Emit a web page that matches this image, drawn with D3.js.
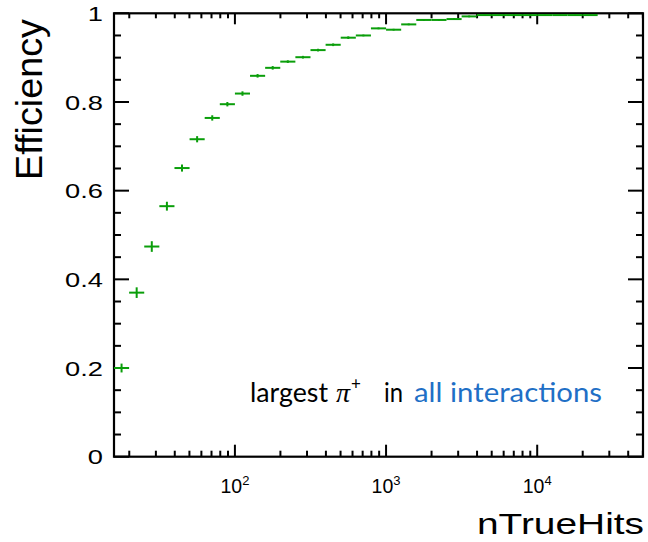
<!DOCTYPE html>
<html>
<head>
<meta charset="utf-8">
<script src="https://cdn.jsdelivr.net/npm/d3@7"></script>
<style>
  html, body { margin: 0; padding: 0; background: #fff; }
  svg { display: block; }
</style>
</head>
<body>
<svg id="chart" width="648" height="542"></svg>
<script>
// Lower edges (log10 of nTrueHits) of each histogram bin; every bin is 0.1 decade wide
const binLowLog10 = [1.2, 1.3, 1.4, 1.5, 1.6, 1.7, 1.8, 1.9, 2.0, 2.1,
                     2.2, 2.3, 2.4, 2.5, 2.6, 2.7, 2.8, 2.9, 3.0, 3.1,
                     3.2, 3.3, 3.4, 3.5, 3.6, 3.7, 3.8, 3.9, 4.0, 4.1,
                     4.2, 4.3];
const binWidthLog10 = 0.1;

// Reconstruction efficiency per bin and its statistical uncertainty
const efficiency = [0.200, 0.370, 0.474, 0.565, 0.651, 0.716, 0.764, 0.795, 0.819, 0.859,
                    0.877, 0.891, 0.901, 0.917, 0.929, 0.945, 0.950, 0.966, 0.963, 0.975,
                    0.985, 0.985, 0.987, 0.993, 0.996, 0.996, 0.996, 0.996, 0.996, 0.996,
                    0.996, 0.996];
const efficiencyErr = [0.010, 0.012, 0.012, 0.010, 0.008, 0.007, 0.006, 0.005, 0.005, 0.004,
                       0.004, 0.003, 0.003, 0.003, 0.003, 0.003, 0.002, 0.002, 0.002, 0.002,
                       0.002, 0.002, 0.002, 0.002, 0.001, 0.001, 0.001, 0.001, 0.001, 0.001,
                       0.001, 0.001];

// Axis ticks
const yMajorTicks = [0, 0.2, 0.4, 0.6, 0.8, 1];
const yTickLabels = ["0", "0.2", "0.4", "0.6", "0.8", "1"];
const xDecades = [100, 1000, 10000];
const xDecadeExponents = ["2", "3", "4"];

const xTitle = "nTrueHits";
const yTitle = "Efficiency";

const frame = { left: 114, right: 643, top: 13.3, bottom: 456.7 };
const green = "#0a9e0a";
const blue = "#1f6fc6";
const sans = "'Liberation Sans', Arial, Helvetica, sans-serif";

const svg = d3.select("#chart");

const x = d3.scaleLog()
  .domain([Math.pow(10, 1.2), Math.pow(10, 4.7)])
  .range([frame.left, frame.right]);
const y = d3.scaleLinear()
  .domain([0, 1])
  .range([frame.bottom, frame.top]);

// Minor ticks: x at every integer multiple inside each decade, y every 0.05
const xMinor = x.ticks(40).filter(v => xDecades.indexOf(v) < 0);
const yMinor = d3.range(0, 21).map(i => i * 0.05).filter(v => Math.abs(v * 5 - Math.round(v * 5)) > 1e-6);

const axes = svg.append("g").attr("stroke", "#000").attr("stroke-width", 2);

// Left & right axes (ticks pointing into the frame)
axes.selectAll("line.ymaj").data(yMajorTicks).join("line")
  .attr("x1", frame.left).attr("x2", frame.left + 15)
  .attr("y1", d => y(d)).attr("y2", d => y(d));
axes.selectAll("line.ymin").data(yMinor).join("line")
  .attr("x1", frame.left).attr("x2", frame.left + 7)
  .attr("y1", d => y(d)).attr("y2", d => y(d));
axes.selectAll("line.ymajR").data(yMajorTicks).join("line")
  .attr("x1", frame.right).attr("x2", frame.right - 15)
  .attr("y1", d => y(d)).attr("y2", d => y(d));
axes.selectAll("line.yminR").data(yMinor).join("line")
  .attr("x1", frame.right).attr("x2", frame.right - 7)
  .attr("y1", d => y(d)).attr("y2", d => y(d));

// Bottom & top axes
axes.selectAll("line.xmaj").data(xDecades).join("line")
  .attr("x1", d => x(d)).attr("x2", d => x(d))
  .attr("y1", frame.bottom).attr("y2", frame.bottom - 12);
axes.selectAll("line.xmin").data(xMinor).join("line")
  .attr("x1", d => x(d)).attr("x2", d => x(d))
  .attr("y1", frame.bottom).attr("y2", frame.bottom - 6);
axes.selectAll("line.xmajT").data(xDecades).join("line")
  .attr("x1", d => x(d)).attr("x2", d => x(d))
  .attr("y1", frame.top).attr("y2", frame.top + 11);
axes.selectAll("line.xminT").data(xMinor).join("line")
  .attr("x1", d => x(d)).attr("x2", d => x(d))
  .attr("y1", frame.top).attr("y2", frame.top + 5);

// Frame
svg.append("rect")
  .attr("x", frame.left).attr("y", frame.top)
  .attr("width", frame.right - frame.left).attr("height", frame.bottom - frame.top)
  .attr("fill", "none").attr("stroke", "#000").attr("stroke-width", 2.2);

// Y tick labels (wide-set digits)
svg.append("g").style("font-family", sans)
  .selectAll("text").data(yMajorTicks).join("text")
  .attr("transform", d => `translate(103,${y(d)}) scale(1.3,1)`)
  .attr("dy", "0.36em")
  .attr("text-anchor", "end").attr("font-size", 21)
  .text((d, i) => yTickLabels[i]);

// X tick labels: 10 with superscript exponent
const xl = svg.append("g").style("font-family", sans)
  .selectAll("text").data(xDecades).join("text")
  .attr("x", d => x(d)).attr("y", 493)
  .attr("text-anchor", "middle").attr("font-size", 19.5);
xl.append("tspan").text("10");
xl.append("tspan").attr("font-size", 13).attr("dy", -8).text((d, i) => xDecadeExponents[i]);

// Axis titles
svg.append("text").style("font-family", sans)
  .attr("x", 644).attr("y", 534.3)
  .attr("text-anchor", "end").attr("font-size", 29)
  .attr("textLength", 167).attr("lengthAdjust", "spacingAndGlyphs")
  .text(xTitle);
svg.append("text").style("font-family", sans)
  .attr("transform", "translate(42,19) rotate(-90)")
  .attr("text-anchor", "end").attr("font-size", 37)
  .attr("textLength", 161).attr("lengthAdjust", "spacingAndGlyphs")
  .text(yTitle);

// Efficiency points: horizontal bar spans the bin, vertical bar is the error
const pts = binLowLog10.map((lo, i) => ({
  lo: Math.pow(10, lo), hi: Math.pow(10, lo + binWidthLog10),
  c: Math.pow(10, lo + binWidthLog10 / 2),
  v: efficiency[i], e: efficiencyErr[i]
}));
const g = svg.append("g").attr("stroke", green).attr("stroke-width", 2);
g.selectAll("line.h").data(pts).join("line")
  .attr("x1", d => x(d.lo)).attr("x2", d => x(d.hi))
  .attr("y1", d => y(d.v)).attr("y2", d => y(d.v));
g.selectAll("line.v").data(pts).join("line")
  .attr("x1", d => x(d.c)).attr("x2", d => x(d.c))
  .attr("y1", d => y(d.v - d.e)).attr("y2", d => y(d.v + d.e));

// Sample annotation
const ann = svg.append("g").style("font-family", "Lato, 'Open Sans', sans-serif").attr("font-size", 27);
ann.append("text").attr("x", 250).attr("y", 402.3).attr("fill", "#000")
  .attr("textLength", 78).attr("lengthAdjust", "spacingAndGlyphs").text("largest");
ann.append("text").attr("x", 336).attr("y", 402.3).attr("fill", "#000")
  .style("font-family", "'Liberation Serif', 'DejaVu Serif', serif").style("font-style", "italic")
  .attr("font-size", 28).text("π");
ann.append("text").attr("x", 351).attr("y", 390).attr("fill", "#000")
  .attr("font-size", 17).text("+");
ann.append("text").attr("x", 384).attr("y", 402.3).attr("fill", "#000")
  .attr("textLength", 19).attr("lengthAdjust", "spacingAndGlyphs").text("in");
ann.append("text").attr("x", 414).attr("y", 402.3).attr("fill", blue)
  .attr("textLength", 188).attr("lengthAdjust", "spacingAndGlyphs").text("all interactions");
</script>
</body>
</html>
